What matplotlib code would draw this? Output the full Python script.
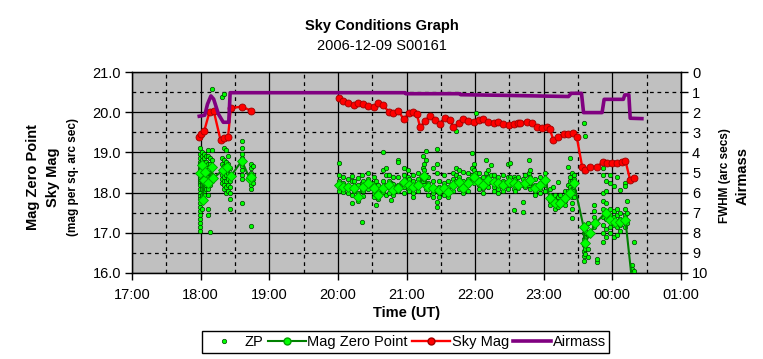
import matplotlib
matplotlib.use("Agg")
import matplotlib.pyplot as plt
import numpy as np
from matplotlib.lines import Line2D
from matplotlib.ticker import MultipleLocator

plt.rcParams['font.family'] = ['Liberation Sans', 'DejaVu Sans']

# times are hours UT, values past 24 are after midnight
# Mag Zero Point (mean per exposure); nan = gap between the two runs
mzp_t = [17.99, 18.02, 18.03, 18.05, 18.06, 18.11, 18.16, 18.18, 18.33, 18.38, 18.44, 18.60, 18.72, 18.74,
         19.50,
         20.01, 20.08, 20.15, 20.23, 20.30, 20.37, 20.44, 20.52, 20.59, 20.66, 20.74, 20.81, 20.88, 20.96,
         21.03, 21.10, 21.17, 21.25, 21.32, 21.39, 21.47, 21.54, 21.61, 21.68, 21.76, 21.83, 21.90, 21.98,
         22.05, 22.12, 22.19, 22.27, 22.34, 22.41, 22.49, 22.56, 22.63, 22.73, 22.80, 22.87, 22.95, 23.02,
         23.09, 23.17, 23.24, 23.31, 23.38, 23.44, 23.58, 23.60, 23.68, 23.75, 23.90, 23.97, 24.04, 24.11,
         24.19, 24.28]
mzp_m = [18.48, 18.69, 17.82, 18.31, 18.52, 18.23, 18.64, 18.36, 18.56, 18.63, 18.41, 18.79, 18.33, 18.40,
         np.nan,
         18.19, 18.15, 18.15, 18.11, 17.90, 18.15, 18.23, 18.11, 17.94, 18.11, 18.19, 18.06, 18.11, 18.27,
         18.19, 18.15, 18.19, 18.41, 18.15, 18.11, 18.06, 18.11, 18.02, 18.19, 18.27, 18.11, 18.23, 18.40,
         18.27, 18.19, 18.31, 18.27, 18.23, 18.19, 18.27, 18.23, 18.19, 18.23, 18.31, 18.11, 18.19, 18.31,
         17.86, 17.73, 17.75, 17.86, 17.98, 18.23, 17.15, 16.74, 16.99, 17.24, 17.49, 17.32, 17.28, 17.28,
         17.32, 15.90]

# Sky brightness
sky_t = [17.97, 18.00, 18.05, 18.13, 18.19, 18.29, 18.34, 18.40, 18.44, 18.60, 18.73,
         19.50,
         20.01, 20.08, 20.15, 20.23, 20.30, 20.37, 20.44, 20.52, 20.59, 20.66, 20.74, 20.81, 20.88, 20.96,
         21.03, 21.10, 21.15, 21.20, 21.27, 21.34, 21.42, 21.49, 21.56, 21.64, 21.68, 21.76, 21.83, 21.90,
         21.98, 22.05, 22.12, 22.19, 22.27, 22.34, 22.41, 22.49, 22.56, 22.63, 22.66, 22.75, 22.83, 22.90,
         22.97, 23.05, 23.09, 23.14, 23.21, 23.29, 23.36, 23.43, 23.48, 23.56, 23.60, 23.68, 23.77, 23.87,
         23.92, 23.99, 24.07, 24.14, 24.19, 24.26, 24.31]
sky_m = [19.39, 19.47, 19.52, 20.01, 20.04, 19.31, 19.35, 19.39, 20.10, 20.14, 20.04,
         np.nan,
         20.35, 20.29, 20.24, 20.18, 20.22, 20.20, 20.15, 20.12, 20.24, 20.18, 20.01, 19.97, 20.04, 19.82,
         19.97, 20.00, 19.95, 19.62, 19.79, 19.91, 19.81, 19.71, 19.85, 19.81, 19.62, 19.72, 19.82, 19.79,
         19.76, 19.81, 19.82, 19.76, 19.74, 19.75, 19.71, 19.68, 19.71, 19.72, 19.74, 19.76, 19.72, 19.64,
         19.60, 19.62, 19.57, 19.31, 19.39, 19.47, 19.47, 19.49, 19.39, 18.64, 18.56, 18.63, 18.64, 18.77,
         18.73, 18.74, 18.73, 18.77, 18.79, 18.31, 18.36]

# Airmass (right axis)
air_t = [17.98, 18.06, 18.10, 18.15, 18.19, 18.26, 18.33, 18.41, 18.43, 20.98, 20.99, 21.78, 21.79,
         22.40, 23.36, 23.40, 23.55, 23.58, 23.85, 23.88, 24.16, 24.18, 24.24, 24.26, 24.43]
air_m = [2.20, 2.15, 1.60, 1.19, 1.35, 2.10, 2.50, 2.50, 1.03, 1.03, 1.08, 1.08, 1.13,
         1.16, 1.22, 1.06, 1.06, 2.02, 2.02, 1.36, 1.36, 1.14, 1.14, 2.30, 2.32]

# individual star zero points, one list per exposure
zp_col_t = [17.99, 18.02, 18.05, 18.08, 18.11, 18.14, 18.17, 18.31, 18.34, 18.37, 18.40, 18.43, 18.60,
            18.73, 18.76,
            20.01, 20.08, 20.15, 20.20, 20.23, 20.30, 20.35, 20.37, 20.44, 20.52, 20.56, 20.59, 20.66,
            20.70, 20.74, 20.77, 20.81, 20.88, 20.96, 21.02, 21.03, 21.10, 21.17, 21.24, 21.25, 21.28,
            21.32, 21.39, 21.45, 21.47, 21.54, 21.61, 21.68, 21.72, 21.76, 21.83, 21.90, 21.95, 21.98,
            22.01, 22.05, 22.12, 22.16, 22.19, 22.23, 22.27, 22.34, 22.41, 22.48, 22.51, 22.56, 22.58,
            22.63, 22.70, 22.73, 22.78, 22.80, 22.87, 22.95, 23.02, 23.09, 23.13, 23.17, 23.21, 23.24,
            23.31, 23.36, 23.38, 23.41, 23.44, 23.58, 23.60, 23.64, 23.73, 23.77, 23.86, 23.90, 23.97,
            24.02, 24.07, 24.11, 24.19, 24.21, 24.29, 24.31]
zp_col_m = [
    [19.10, 18.95, 18.85, 18.75, 18.70, 18.62, 18.55, 18.50, 18.45, 18.40, 18.35, 18.30, 18.25, 18.18,
     18.10, 18.00, 17.92, 17.85, 17.75, 17.65, 17.55, 17.45, 17.35, 17.25, 17.15, 17.05],
    [19.0, 18.9, 18.8, 18.7, 18.6, 18.5, 18.4, 18.3, 18.2, 18.1, 17.95, 17.8, 17.6],
    [18.95, 18.85, 18.7, 18.55, 18.45, 18.35, 18.25, 18.15, 18.05, 17.95],
    [18.9, 18.75, 18.6, 18.5, 18.4, 18.3, 18.2, 18.1],
    [19.05, 18.9, 18.7, 18.55, 18.4, 18.25, 18.1, 17.95, 17.6, 17.45],
    [18.85, 18.7, 18.5, 18.35, 18.2, 17.03],
    [20.57, 19.05, 18.8, 18.6, 18.45, 18.3],
    [20.39, 18.85, 18.7, 18.55, 18.45, 18.35, 18.25],
    [20.45, 19.1, 18.8, 18.65, 18.5, 18.4, 18.3, 18.2, 18.1],
    [19.05, 18.75, 18.6, 18.45, 18.3, 18.15, 18.0],
    [18.9, 18.7, 18.5, 18.35, 18.2, 18.05],
    [18.6, 18.45, 18.3, 18.15, 18.0, 17.85, 17.6],
    [19.28, 19.1, 18.95, 18.85, 18.75, 18.65, 18.55, 18.45, 18.35, 17.75],
    [18.7, 18.6, 18.5, 18.4, 18.3, 18.2, 18.1, 17.18],
    [18.65, 18.45, 18.35, 18.25],
    [18.74, 18.45, 18.3, 18.22, 18.15, 18.05],
    [18.38, 18.25, 18.1, 18.02],
    [18.35, 18.2, 18.08, 17.98],
    [18.42, 18.3, 18.12, 17.95, 17.73],
    [18.28, 18.16, 18.04],
    [18.36, 18.2, 18.0, 17.85, 17.8],
    [18.45, 18.25, 18.1, 17.28],
    [18.3, 18.18, 18.05, 17.92],
    [18.5, 18.35, 18.2, 18.08],
    [18.4, 18.25, 18.12, 17.98, 17.9],
    [18.3, 18.0, 17.69],
    [18.2, 18.05, 17.92, 17.85],
    [19.00, 18.55, 18.3, 18.15, 18.02],
    [18.6, 18.45, 18.2, 17.95],
    [18.45, 18.3, 18.15, 18.0],
    [18.25, 18.1, 17.82],
    [18.4, 18.22, 18.05, 17.95],
    [18.81, 18.77, 18.4, 18.2, 18.05],
    [18.6, 18.45, 18.3, 18.15, 18.0],
    [18.56, 18.4, 18.25, 18.1],
    [18.35, 18.2, 18.05],
    [18.45, 18.3, 18.15, 18.0, 17.9],
    [18.5, 18.35, 18.2, 18.05],
    [18.91, 18.6, 18.45, 18.3],
    [18.7, 18.55, 18.35, 18.2],
    [19.03, 18.8, 18.4, 18.1],
    [18.4, 18.25, 18.1, 17.95],
    [18.6, 18.3, 18.15, 18.0, 17.9],
    [19.08, 18.7, 18.5, 17.77, 17.65],
    [18.3, 18.15, 18.0, 17.88],
    [18.45, 18.25, 18.1, 17.95],
    [18.3, 18.15, 18.02, 17.9],
    [18.5, 18.35, 18.2, 18.05],
    [19.54, 18.6, 18.45, 18.3],
    [18.55, 18.4, 18.25, 18.1],
    [18.52, 18.3, 18.15, 18.0],
    [18.5, 18.35, 18.2, 18.05],
    [18.99, 18.6, 18.45, 18.3],
    [18.7, 18.55, 18.4, 18.25],
    [19.99, 18.5, 18.35],
    [18.5, 18.35, 18.2, 18.1],
    [18.4, 18.25, 18.12, 18.0],
    [18.81, 18.5, 18.3],
    [18.55, 18.4, 18.25, 18.15],
    [18.69, 18.45, 18.3],
    [18.45, 18.3, 18.15, 18.05],
    [18.4, 18.25, 18.1, 18.0],
    [18.45, 18.3, 18.15, 18.05],
    [18.7, 18.4, 18.25, 18.1],
    [18.73, 18.4, 18.2],
    [18.4, 18.25, 18.1, 17.57],
    [18.35, 18.2, 18.05],
    [18.4, 18.25, 18.12],
    [18.35, 18.2, 17.77, 17.52],
    [18.45, 18.3, 18.15],
    [18.81, 18.5, 18.35, 18.2],
    [18.55, 18.4, 18.25, 18.1],
    [18.35, 18.2, 18.05, 17.95],
    [18.4, 18.25, 18.1, 18.0],
    [18.5, 18.35, 18.2, 18.05],
    [18.1, 17.95, 17.8, 17.7],
    [18.15, 17.9, 17.75],
    [17.95, 17.82, 17.68, 17.6],
    [18.27, 17.9, 17.75, 17.65],
    [17.95, 17.8, 17.7],
    [18.05, 17.92, 17.8, 17.7],
    [18.64, 18.2, 18.05, 17.9],
    [18.85, 18.4, 18.3, 18.15, 18.0],
    [18.5, 18.3, 18.1, 17.9, 17.75, 17.6, 17.36],
    [18.45, 18.35, 18.2, 18.05, 17.9],
    [19.72, 17.15, 17.0, 16.85, 16.7, 16.55, 16.42, 16.3],
    [19.42, 17.05, 16.9, 16.75, 16.6, 16.48],
    [17.25, 16.95, 16.6, 16.4],
    [17.69, 17.55, 17.4, 17.25, 17.15],
    [16.28, 16.35],
    [18.6, 18.45, 18.0, 17.8, 17.6, 17.4, 17.2, 17.0, 16.78],
    [18.3, 18.05, 17.75, 17.55, 17.35, 17.1, 16.9],
    [18.45, 18.25, 17.6, 17.45, 17.3, 17.15, 17.0],
    [18.16, 17.55, 17.4, 17.2, 16.9],
    [18.4, 17.6, 17.45, 17.3, 17.15, 16.95],
    [18.07, 17.5, 17.35, 17.2, 17.05],
    [18.24, 18.16, 17.6, 17.45, 17.3, 17.15],
    [17.8, 17.5, 17.25],
    [16.2, 16.1],
    [16.78, 16.05],
]

hour_ticks = [17, 18, 19, 20, 21, 22, 23, 24, 25]
hour_labels = ["17:00", "18:00", "19:00", "20:00", "21:00", "22:00", "23:00", "00:00", "01:00"]
mag_ticks = [16, 17, 18, 19, 20, 21]
air_ticks = list(range(0, 11))

zp_t = [t for t, col in zip(zp_col_t, zp_col_m) for _ in col]
zp_m = [m for col in zp_col_m for m in col]

fig = plt.figure(figsize=(7.63, 3.59), dpi=100)
ax = fig.add_axes([132/763, 1 - 273/359, 549/763, 201/359])
ax.set_facecolor('#c0c0c0')

ax.plot(zp_t, zp_m, linestyle='none', marker='o', markersize=3.2, markerfacecolor='#00ff00',
        markeredgecolor='#004000', markeredgewidth=0.5, zorder=3)
ax.plot(mzp_t, mzp_m, color='#008000', lw=1.5, marker='D', markersize=5.5, markerfacecolor='#00ff00',
        markeredgecolor='#00a000', markeredgewidth=0.6, zorder=4)
ax.plot(sky_t, sky_m, color='#ff0000', lw=1.7, marker='o', markersize=5, markerfacecolor='#ff0000',
        markeredgecolor='#a00000', markeredgewidth=0.6, zorder=5)

ax.set_xlim(17, 25)
ax.set_ylim(16, 21)
ax.set_xticks(hour_ticks)
ax.set_xticklabels(hour_labels)
ax.set_yticks(mag_ticks)
ax.set_yticklabels([f"{v:.1f}" for v in mag_ticks])
ax.xaxis.set_minor_locator(MultipleLocator(0.5))
ax.yaxis.set_minor_locator(MultipleLocator(0.5))
ax.set_axisbelow(True)
ax.grid(which='major', color='black', lw=0.9, ls='-')
ax.grid(which='minor', color='black', lw=0.9, ls=(0, (3, 3)))
ax.tick_params(which='major', direction='out', length=5, width=1, labelsize=10.5, pad=3)
ax.tick_params(which='minor', length=0)
ax.tick_params(axis='x', pad=6)
for s in ax.spines.values():
    s.set_linewidth(1)

ax2 = ax.twinx()
ax2.plot(air_t, air_m, color='#800080', lw=2.6, zorder=3)
ax2.set_ylim(10, 0)
ax2.set_yticks(air_ticks)
ax2.tick_params(direction='out', length=5, width=1, labelsize=10.5, pad=3)

fig.text(0.5, 0.928, "Sky Conditions Graph", ha='center', va='center', fontsize=10.5, fontweight='bold')
fig.text(0.5, 0.872, "2006-12-09 S00161", ha='center', va='center', fontsize=10.5)
fig.text(406.5/763, 1 - 313/359, "Time (UT)", ha='center', va='center', fontsize=10.5, fontweight='bold')

fig.text(33/763, 0.507, "Mag Zero Point", rotation=90, ha='center', va='center', fontsize=10.5, fontweight='bold')
fig.text(53/763, 0.507, "Sky Mag", rotation=90, ha='center', va='center', fontsize=10.5, fontweight='bold')
fig.text(73/763, 0.507, "(mag per sq. arc sec)", rotation=90, ha='center', va='center', fontsize=8.5, fontweight='bold')
fig.text(725/763, 0.51, "FWHM (arc secs)", rotation=90, ha='center', va='center', fontsize=8.5, fontweight='bold')
fig.text(743/763, 0.51, "Airmass", rotation=90, ha='center', va='center', fontsize=10.5, fontweight='bold')

handles = [
    Line2D([], [], linestyle='none', marker='o', markersize=3.2, markerfacecolor='#00ff00',
           markeredgecolor='#004000', markeredgewidth=0.5),
    Line2D([], [], color='#008000', lw=1.5, marker='o', markersize=5, markerfacecolor='#00ff00',
           markeredgecolor='#00a000'),
    Line2D([], [], color='#ff0000', lw=1.7, marker='o', markersize=5, markerfacecolor='#ff0000',
           markeredgecolor='#a00000'),
    Line2D([], [], color='#800080', lw=2.6),
]
labels = ["ZP", "Mag Zero Point", "Sky Mag", "Airmass"]
leg = fig.legend(handles, labels, loc='center', bbox_to_anchor=(405.5/763, 1 - 342/359), ncol=4,
                 fontsize=10.5, frameon=True, fancybox=False, edgecolor='black', framealpha=1,
                 handlelength=2.6, handletextpad=0.1, columnspacing=0.3, borderpad=0.25)
leg.get_frame().set_linewidth(1)

fig.savefig("out.png", dpi=100)
